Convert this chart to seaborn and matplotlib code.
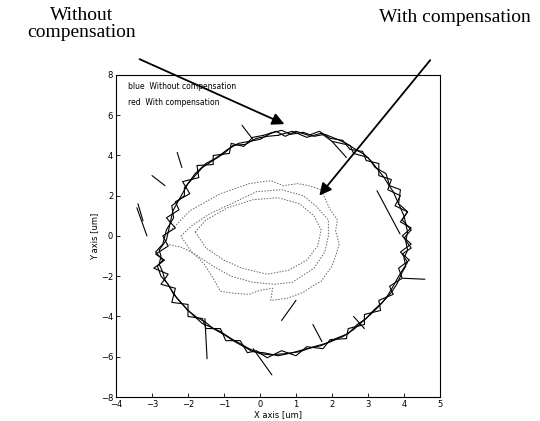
import matplotlib
matplotlib.use("Agg")
import matplotlib.pyplot as plt
import seaborn as sns
import pandas as pd

# Quy dao khong bu (vong ngoai) - doc tu anh, don vi um
lap1_x = [0.3, 0.6, 0.85, 1.2, 1.5, 1.8, 2.15, 2.4, 2.7, 2.9, 3.1, 3.25, 3.45, 3.55, 3.7, 3.8,
          3.9, 4.0, 4.05, 4.1, 4.05, 4.1, 4.0, 4.05, 3.95, 3.8, 3.65, 3.5, 3.3, 3.1, 2.85, 2.6,
          2.3, 1.9, 1.5, 1.1, 0.7, 0.3, 0.0, -0.3, -0.5, -0.8, -1.1, -1.4, -1.6, -1.85, -2.05,
          -2.3, -2.45, -2.65, -2.7, -2.8, -2.75, -2.8, -2.6, -2.5, -2.42, -2.25, -2.0, -1.8,
          -1.5, -1.2, -0.9, -0.6, -0.3, 0.0, 0.3]
lap1_y = [5.1, 5.25, 5.05, 5.15, 4.95, 5.05, 4.8, 4.6, 4.25, 4.05, 3.7, 3.35, 2.9, 2.6, 2.2, 1.8,
          1.4, 1.0, 0.6, 0.2, -0.25, -0.7, -1.1, -1.5, -1.8, -2.4, -2.8, -3.1, -3.5, -3.85, -4.25,
          -4.65, -5.0, -5.3, -5.5, -5.75, -5.85, -5.9, -5.85, -5.6, -5.4, -5.1, -4.75, -4.5,
          -4.35, -3.95, -3.6, -3.1, -2.7, -2.15, -1.8, -1.4, -1.0, -0.7, -0.2, 0.6, 1.25, 1.8,
          2.6, 3.1, 3.6, 3.9, 4.3, 4.6, 4.7, 4.8, 5.1]

lap2_x = [0.5, 0.9, 1.3, 1.7, 2.0, 2.5, 2.6, 3.0, 3.2, 3.5, 3.6, 3.9, 3.85, 4.1, 3.95, 4.2, 4.0,
          4.2, 3.95, 4.1, 3.85, 3.7, 3.55, 3.4, 3.15, 2.95, 2.7, 2.45, 2.1, 1.7, 1.3, 0.9, 0.5,
          0.1, -0.2, -0.45, -0.7, -1.0, -1.3, -1.5, -1.75, -2.0, -2.2, -2.4, -2.55, -2.75, -2.85,
          -2.7, -2.9, -2.7, -2.6, -2.4, -2.45, -2.1, -2.1, -1.85, -1.6, -1.35, -1.0, -0.75,
          -0.4, -0.1, 0.2, 0.5]
lap2_y = [5.0, 5.2, 4.9, 5.1, 4.7, 4.5, 4.1, 3.9, 3.4, 3.1, 2.5, 2.3, 1.6, 1.2, 0.8, 0.3, -0.1,
          -0.6, -0.9, -1.3, -2.0, -2.5, -2.95, -3.3, -3.7, -4.1, -4.4, -4.85, -5.1, -5.45, -5.6,
          -5.8, -5.95, -5.8, -5.75, -5.5, -5.25, -4.9, -4.6, -4.3, -4.05, -3.7, -3.3, -2.9, -2.4,
          -2.0, -1.5, -1.2, -0.8, -0.4, 0.3, 0.9, 1.5, 2.0, 2.4, 2.9, 3.4, 3.7, 4.1, 4.5, 4.55,
          4.85, 4.95, 5.0]

lap3_x = [0.1, 0.45, 0.7, 1.0, 1.35, 1.65, 1.95, 2.3, 2.5, 2.85, 2.95, 3.3, 3.3, 3.65, 3.55, 3.9,
          3.75, 4.1, 3.9, 4.2, 3.95, 4.2, 3.9, 4.15, 3.85, 3.95, 3.6, 3.7, 3.3, 3.35, 2.9, 2.9,
          2.45, 2.4, 1.95, 1.75, 1.3, 1.0, 0.6, 0.2, -0.1, -0.35, -0.55, -0.95, -1.1, -1.5, -1.6,
          -2.0, -2.0, -2.45, -2.35, -2.75, -2.55, -2.95, -2.65, -2.9, -2.55, -2.7, -2.35, -2.6,
          -2.25, -2.35, -1.95, -2.15, -1.7, -1.75, -1.3, -1.3, -0.85, -0.8, -0.45, -0.2, 0.1]
lap3_y = [5.0, 5.2, 4.95, 5.2, 5.0, 5.2, 4.85, 4.75, 4.3, 4.2, 3.75, 3.6, 3.0, 2.8, 2.3, 2.0,
          1.5, 1.2, 0.7, 0.4, 0.0, -0.4, -0.8, -1.2, -1.6, -2.1, -2.5, -2.9, -3.2, -3.7, -3.9,
          -4.4, -4.6, -5.1, -5.15, -5.6, -5.5, -5.95, -5.7, -6.05, -5.7, -5.8, -5.2, -5.2, -4.6,
          -4.6, -4.1, -4.0, -3.4, -3.3, -2.6, -2.4, -1.9, -1.6, -1.2, -0.9, -0.5, 0.0, 0.4, 0.9,
          1.3, 1.7, 2.1, 2.7, 2.9, 3.5, 3.55, 4.0, 4.1, 4.6, 4.45, 4.9, 5.0]

# cac vet nhieu dai (dau, cuoi)
spike_x0 = [-1.53, -0.19, 3.25, -2.3, -3.0, -3.39, 1.47, -3.42, 3.97, 2.0, 1.0, -0.5, 2.6]
spike_y0 = [-4.1, -5.6, 2.25, 4.15, 3.0, 1.6, -4.4, 1.4, -2.1, 4.7, -3.2, 5.5, -4.0]
spike_x1 = [-1.47, 0.33, 3.89, -2.17, -2.64, -3.25, 1.72, -3.14, 4.58, 2.4, 0.6, -0.2, 2.9]
spike_y1 = [-6.1, -6.9, 0.1, 3.4, 2.5, 0.75, -5.25, 0.0, -2.15, 3.9, -4.2, 4.8, -4.6]

# Quy dao co bu (vong trong)
in1_x = [-2.6, -2.2, -1.9, -1.7, -1.55, -1.3, -1.1, -0.7, -0.3, 0.0, 0.35, 0.3, 0.75, 1.2, 1.45,
         1.7, 2.0, 2.1, 2.2, 2.1, 2.15, 1.95, 1.7, 1.35, 1.05, 0.65, 0.3, -0.3, -0.7, -1.1,
         -1.5, -1.95, -2.3, -2.6]
in1_y = [-0.4, -0.55, -0.8, -1.1, -1.4, -2.1, -2.75, -2.85, -2.9, -2.7, -2.6, -3.2, -3.1, -2.8,
         -2.5, -2.25, -1.5, -1.0, -0.4, 0.25, 0.8, 1.3, 2.3, 2.5, 2.6, 2.5, 2.75, 2.6, 2.35,
         2.1, 1.7, 1.25, 0.6, 0.1]
in2_x = [-1.8, -1.5, -1.0, -0.5, 0.2, 0.8, 1.3, 1.6, 1.7, 1.5, 1.1, 0.5, -0.2, -0.9, -1.5, -1.8]
in2_y = [0.2, -0.6, -1.2, -1.6, -1.9, -1.7, -1.2, -0.5, 0.3, 1.0, 1.6, 1.9, 1.8, 1.4, 0.8, 0.2]
in3_x = [-2.2, -1.9, -1.4, -0.8, -0.1, 0.6, 1.2, 1.55, 1.9, 1.9, 1.8, 1.5, 0.9, 0.4, -0.2, -0.8,
         -1.3, -1.9, -2.2]
in3_y = [0.0, 0.5, 1.1, 1.6, 2.2, 2.3, 2.0, 1.5, 0.8, 0.0, -0.8, -1.6, -2.3, -2.4, -2.3, -2.0,
         -1.5, -0.8, 0.0]

x_ticks = [-4, -3, -2, -1, 0, 1, 2, 3, 4, 5]
y_ticks = [-8, -6, -4, -2, 0, 2, 4, 6, 8]

# diem mui ten chi vao
arrow_without = (0.75, 5.5)
arrow_with = (1.6, 1.9)


def to_frame(tracks):
    rows = []
    for name, xs, ys in tracks:
        for i, (x, y) in enumerate(zip(xs, ys)):
            rows.append(dict(seg=name, order=i, x=x, y=y))
    return pd.DataFrame(rows)


outer_tracks = [("lap1", lap1_x, lap1_y), ("lap2", lap2_x, lap2_y), ("lap3", lap3_x, lap3_y)]
for k in range(len(spike_x0)):
    outer_tracks.append((f"s{k}", [spike_x0[k], spike_x1[k]], [spike_y0[k], spike_y1[k]]))
outer = to_frame(outer_tracks)
inner = to_frame([("in1", in1_x, in1_y), ("in2", in2_x, in2_y), ("in3", in3_x, in3_y)])

sns.set_theme(style="ticks")
plt.rcParams['font.family'] = ['DejaVu Sans']
plt.rcParams['text.color'] = 'black'
plt.rcParams['axes.labelcolor'] = 'black'
plt.rcParams['xtick.color'] = 'black'
plt.rcParams['ytick.color'] = 'black'

fig = plt.figure(figsize=(5.4, 4.21), dpi=100)
ax = fig.add_axes([0.2148, 0.057, 0.6, 0.765])

sns.lineplot(data=inner, x="x", y="y", units="seg", estimator=None, sort=False,
             color="#666666", linewidth=0.7, linestyle=(0, (1.5, 1.5)), ax=ax)
sns.lineplot(data=outer, x="x", y="y", units="seg", estimator=None, sort=False,
             color="black", linewidth=0.8, ax=ax)

ax.set_xlim(-4, 5)
ax.set_ylim(-8, 8)
ax.set_xticks(x_ticks)
ax.set_yticks(y_ticks)
ax.tick_params(direction="in", labelsize=6, length=3, width=0.6, pad=2)
for s in ax.spines.values():
    s.set_visible(True)
    s.set_linewidth(0.8)
    s.set_color("black")
ax.set_xlabel("X axis [um]", fontsize=6, labelpad=1)
ax.set_ylabel("Y axis [um]", fontsize=6, labelpad=1)

ax.text(0.037, 0.963, "blue  Without compensation", transform=ax.transAxes,
        fontsize=5.5, va="center")
ax.text(0.037, 0.913, "red  With compensation", transform=ax.transAxes,
        fontsize=5.5, va="center")

serif = ['Liberation Serif', 'DejaVu Serif']
fig.text(82 / 540, 1 - 24 / 421, "Without\ncompensation", ha="center", va="center",
         fontsize=14, family=serif, linespacing=1.0)
fig.text(455 / 540, 1 - 17 / 421, "With compensation", ha="center", va="center",
         fontsize=14, family=serif)

ax.annotate("", xy=arrow_without, xycoords="data",
            xytext=(137 / 540, 1 - 58 / 421), textcoords="figure fraction",
            arrowprops=dict(arrowstyle="-|>", mutation_scale=18, lw=1.3, color="black"))
ax.annotate("", xy=arrow_with, xycoords="data",
            xytext=(432 / 540, 1 - 58 / 421), textcoords="figure fraction",
            arrowprops=dict(arrowstyle="-|>", mutation_scale=18, lw=1.3, color="black"))

fig.savefig("out.png", dpi=100)
